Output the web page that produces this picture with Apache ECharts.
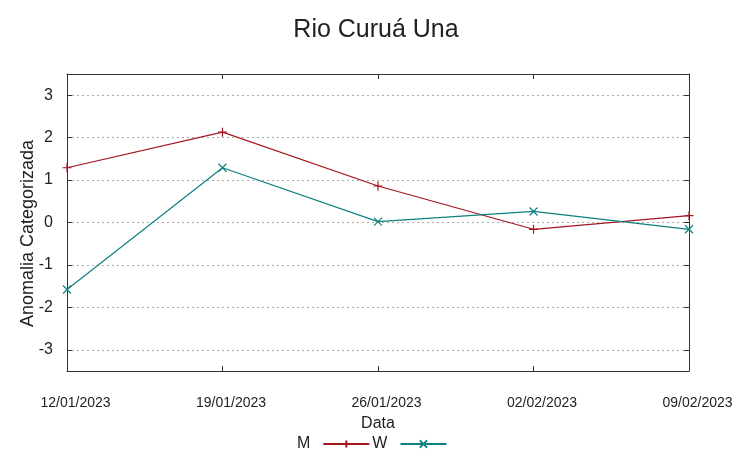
<!DOCTYPE html>
<html>
<head>
<meta charset="utf-8">
<script src="https://cdn.jsdelivr.net/npm/echarts@6/dist/echarts.min.js"></script>
<style>html,body{margin:0;padding:0;background:#fff}#c{width:752px;height:459px}</style>
</head>
<body>
<div id="c"></div>
<script>
const categories = ['12/01/2023', '19/01/2023', '26/01/2023', '02/02/2023', '09/02/2023'];
const seriesM = [1.29, 2.13, 0.86, -0.16, 0.16];
const seriesW = [-1.58, 1.29, 0.02, 0.26, -0.16];
const yTicks = [-3, -2, -1, 0, 1, 2, 3];

const FONT = 'Liberation Sans, Arial, sans-serif';
const RED = '#a3161f';
const TEAL = '#0e8080';
const FRAME = '#333';
const plusSym = 'path://M0,5L10,5M5,0L5,10';
const crossSym = 'path://M0,0L10,10M0,10L10,0';

const chart = echarts.init(document.getElementById('c'), null, {renderer: 'canvas'});
chart.setOption({
  animation: false,
  backgroundColor: '#fff',
  title: {
    text: 'Rio Curuá Una', left: 'center', top: 18, padding: 0,
    textStyle: {fontFamily: FONT, fontSize: 25, fontWeight: 'normal', color: '#222'}
  },
  legend: {
    left: 297, top: 436, padding: 0, align: 'right', itemWidth: 46, itemHeight: 9, itemGap: 2,
    textStyle: {fontFamily: FONT, fontSize: 16, color: '#222', padding: [0, 8, 0, 0]},
    data: ['M', 'W']
  },
  grid: {left: 67, right: 63, top: 74, bottom: 88, containLabel: false},
  xAxis: [{
    type: 'category', data: categories, boundaryGap: false, position: 'bottom',
    axisLine: {onZero: false, lineStyle: {color: FRAME, width: 1}},
    axisTick: {inside: true, length: 5, lineStyle: {color: FRAME}},
    axisLabel: {fontFamily: FONT, fontSize: 14, color: '#222', margin: 25, padding: [0, 0, 0, 17], showMinLabel: true, showMaxLabel: true, interval: 0},
    splitLine: {show: false},
    name: 'Data', nameLocation: 'middle', nameGap: 45, nameMoveOverlap: false,
    nameTextStyle: {fontFamily: FONT, fontSize: 16, color: '#222'}
  }, {
    type: 'category', data: categories, boundaryGap: false, position: 'top',
    axisLine: {onZero: false, lineStyle: {color: FRAME, width: 1}},
    axisTick: {inside: true, length: 5, lineStyle: {color: FRAME}},
    axisLabel: {show: false}, splitLine: {show: false}
  }],
  yAxis: [{
    type: 'value', min: -3.5, max: 3.5, position: 'left',
    axisLine: {show: true, onZero: false, lineStyle: {color: FRAME, width: 1}},
    axisTick: {show: true, inside: true, length: 5, customValues: yTicks, lineStyle: {color: FRAME}},
    axisLabel: {customValues: yTicks, fontFamily: FONT, fontSize: 16, color: '#222', margin: 14},
    splitLine: {show: true, lineStyle: {color: '#aaa', type: [2, 3], width: 1}},
    name: 'Anomalia Categorizada', nameLocation: 'middle', nameGap: 30, nameMoveOverlap: false,
    nameTextStyle: {fontFamily: FONT, fontSize: 18, color: '#222', padding: [0, 22, 0, 0]}
  }, {
    type: 'value', min: -3.5, max: 3.5, position: 'right',
    axisLine: {show: true, onZero: false, lineStyle: {color: FRAME, width: 1}},
    axisTick: {show: true, inside: true, length: 5, customValues: yTicks, lineStyle: {color: FRAME}},
    axisLabel: {show: false}, splitLine: {show: false}
  }],
  series: [{
    name: 'M', type: 'line', data: seriesM, xAxisIndex: 0, yAxisIndex: 0,
    symbol: plusSym, symbolSize: 9, showAllSymbol: true,
    lineStyle: {color: RED, width: 1.2},
    itemStyle: {color: RED, borderColor: RED, borderWidth: 1.2}
  }, {
    name: 'W', type: 'line', data: seriesW, xAxisIndex: 0, yAxisIndex: 0,
    symbol: crossSym, symbolSize: 8, showAllSymbol: true,
    lineStyle: {color: TEAL, width: 1.2},
    itemStyle: {color: TEAL, borderColor: TEAL, borderWidth: 1.2}
  }]
});
</script>
</body>
</html>
